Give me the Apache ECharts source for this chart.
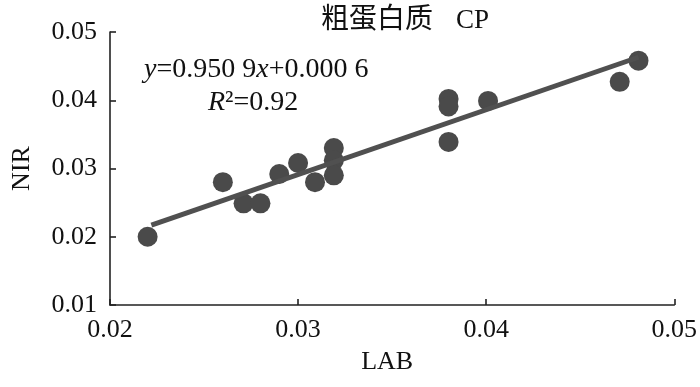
<!DOCTYPE html>
<html>
<head>
<meta charset="utf-8">
<script src="https://cdn.jsdelivr.net/npm/echarts@6/dist/echarts.min.js"></script>
<style>html,body{margin:0;padding:0;background:#fff;}#c{width:700px;height:387px;}</style>
</head>
<body>
<div id="c"></div>
<script>
// LAB (x) and NIR (y) values
var labValues = [0.0220, 0.0260, 0.0271, 0.0280, 0.0290, 0.0300, 0.0309, 0.0319, 0.0319, 0.0319, 0.0380, 0.0380, 0.0380, 0.0401, 0.0471, 0.0481];
var nirValues = [0.0200, 0.0280, 0.0249, 0.0249, 0.0292, 0.0308, 0.0280, 0.0330, 0.0312, 0.0290, 0.0402, 0.0391, 0.0339, 0.0399, 0.0427, 0.0458];
// fitted line end points
var fitX = [0.0222, 0.0481];
var fitY = [0.0217, 0.0463];
var xTicks = [0.02, 0.03, 0.04, 0.05];
var yTicks = [0.01, 0.02, 0.03, 0.04, 0.05];
var titleText = '粗蛋白质';
var titleCode = 'CP';
var equationText = ['y', '=0.950 9', 'x', '+0.000 6'];
var r2Text = ['R', '²=0.92'];

var points = labValues.map(function (v, i) { return [v, nirValues[i]]; });
var fitLine = fitX.map(function (v, i) { return [v, fitY[i]]; });

var times = 'Liberation Serif';
var chart = echarts.init(document.getElementById('c'));
chart.setOption({
  backgroundColor: '#fff',
  animation: false,
  grid: { left: 110, right: 16, top: 32, bottom: 82 },
  xAxis: {
    type: 'value', min: 0.02, max: 0.05, interval: 0.01,
    name: 'LAB', nameLocation: 'middle', nameGap: 44,
    nameTextStyle: { fontFamily: times, fontSize: 26, color: '#111', padding: [0, 10, 0, 0] },
    axisLine: { show: true, lineStyle: { color: '#222', width: 1.6 } },
    axisTick: { show: true, inside: true, length: 6, lineStyle: { color: '#222', width: 1.6 } },
    axisLabel: { margin: 12, fontFamily: times, fontSize: 26, color: '#111',
      formatter: function (v) { return xTicks.indexOf(Math.round(v * 100) / 100) >= 0 ? v.toFixed(2) : ''; } },
    splitLine: { show: false }
  },
  yAxis: {
    type: 'value', min: 0.01, max: 0.05, interval: 0.01,
    name: 'NIR', nameLocation: 'middle', nameGap: 75,
    nameTextStyle: { fontFamily: times, fontSize: 26, color: '#111' },
    axisLine: { show: true, lineStyle: { color: '#222', width: 1.6 } },
    axisTick: { show: true, inside: true, length: 6, lineStyle: { color: '#222', width: 1.6 } },
    axisLabel: { margin: 13, fontFamily: times, fontSize: 26, color: '#111',
      formatter: function (v) { return yTicks.indexOf(Math.round(v * 100) / 100) >= 0 ? v.toFixed(2) : ''; } },
    splitLine: { show: false }
  },
  series: [
    {
      type: 'scatter', data: points, symbolSize: 20,
      itemStyle: { color: '#4a4a4a', opacity: 1 }, z: 2
    },
    {
      type: 'line', data: fitLine, symbol: 'none',
      lineStyle: { color: '#505050', width: 5 }, z: 3
    }
  ],
  graphic: [
    {
      type: 'text', x: 433, y: 17,
      style: {
        text: titleText, align: 'right', verticalAlign: 'middle',
        fontFamily: 'Noto Sans CJK SC', fontSize: 28, fontWeight: 'normal', fill: '#111'
      }
    },
    {
      type: 'text', x: 456, y: 21,
      style: {
        text: titleCode, align: 'left', verticalAlign: 'middle',
        fontFamily: times, fontSize: 27, fill: '#111'
      }
    },
    {
      type: 'text', x: 144, y: 70,
      style: {
        text: '{i|' + equationText[0] + '}{n|' + equationText[1] + '}{i|' + equationText[2] + '}{n|' + equationText[3] + '}',
        align: 'left', verticalAlign: 'middle',
        rich: {
          i: { fontFamily: times, fontStyle: 'italic', fontSize: 28, fill: '#111' },
          n: { fontFamily: times, fontSize: 28, fill: '#111' }
        }
      }
    },
    {
      type: 'text', x: 208, y: 103,
      style: {
        text: '{i|' + r2Text[0] + '}{n|' + r2Text[1] + '}',
        align: 'left', verticalAlign: 'middle',
        rich: {
          i: { fontFamily: times, fontStyle: 'italic', fontSize: 28, fill: '#111' },
          n: { fontFamily: times, fontSize: 28, fill: '#111' }
        }
      }
    }
  ]
});
</script>
</body>
</html>
